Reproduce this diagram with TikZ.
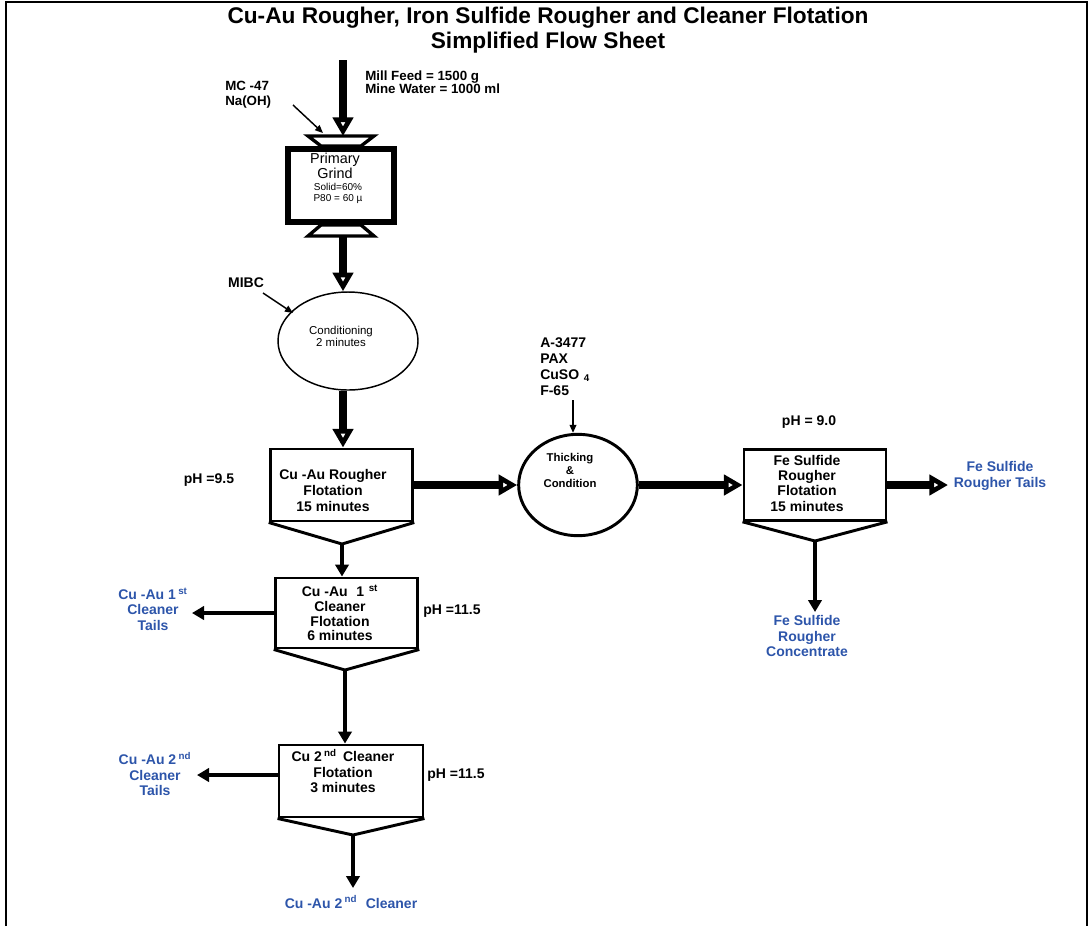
\documentclass[tikz,border=0pt]{standalone}
\usepackage{fontspec}
\setmainfont{Liberation Sans}
\usetikzlibrary{arrows.meta,shapes.geometric}
\definecolor{outblue}{RGB}{45,85,170}

\begin{document}
\begin{tikzpicture}[x=0.75pt,y=-0.75pt,
  lbl/.style={font=\fontsize{10.5}{11.6}\selectfont\bfseries, align=center, inner sep=0pt},
  outlbl/.style={lbl, text=outblue},
  cell/.style={draw, line width=2.2pt, inner sep=0pt, fill=white},
  heavy/.style={line width=6pt, -{Triangle[open,length=14pt,width=15pt,line width=3.6pt]}},
  medium/.style={line width=3pt, -{Triangle[length=9pt,width=10pt]}},
  feeder/.style={line width=1.1pt, -{Triangle[length=6pt,width=5pt]}},
  hopper/.style={line width=2.2pt, line join=miter},
]
\useasboundingbox (0,0) rectangle (1092,926);

% page frame (open at the bottom)
\draw[line width=1.5pt] (6,926) -- (6,1.5) -- (1087,1.5) -- (1087,926);

% title
\node[font=\fontsize{17}{18.75}\selectfont\bfseries, align=center] (title) at (548,30.5)
  {Cu-Au Rougher, Iron Sulfide Rougher and Cleaner Flotation\\Simplified Flow Sheet};

% ---------- grinding mill ----------
\node[draw, line width=4.5pt, minimum width=79.5pt, minimum height=55pt, inner sep=0pt] (grind) at (341,185.5) {};
\draw[line width=2.5pt, fill=white, line join=miter] (308,136) -- (374,136) -- (361,146) -- (321,146) -- cycle;
\draw[line width=2.5pt, fill=white, line join=miter] (321,225) -- (361,225) -- (374,236) -- (308,236) -- cycle;
\node[font=\fontsize{10.8}{9.75}\selectfont, align=center] (gt1) at (335,165.5) {Primary\\Grind};
\node[font=\fontsize{7.5}{8.25}\selectfont, align=center] (gt2) at (338,193.5) {Solid=60\%\\P80 = 60 µ};

\coordinate (feed) at (343,60);
\coordinate (gin) at (343,136);
\coordinate (gout) at (343,236);
\draw[heavy] (feed) -- (gin);

\node[lbl, font=\fontsize{10}{9.9}\selectfont\bfseries, align=left, anchor=west] (feedtxt) at (365,82.5)
  {Mill Feed = 1500 g\\Mine Water = 1000 ml};
\node[lbl, font=\fontsize{10}{11.25}\selectfont\bfseries, align=left, anchor=west] (mctxt) at (225,94.5)
  {MC -47\\Na(OH)};
\coordinate (mca) at (293,105);
\coordinate (mcb) at (323,133);
\draw[feeder] (mca) -- (mcb);

% ---------- conditioning ----------
\node[ellipse, draw, line width=1.1pt, minimum width=105pt, minimum height=73.5pt, inner sep=0pt] (cond) at (348,341) {};
\node[font=\fontsize{8.6}{9}\selectfont, align=center] (condtxt) at (341,336) {Conditioning\\2 minutes};
\draw[heavy] (gout) -- (gout |- cond.north);

\node[lbl] (mibc) at (246,283) {MIBC};
\coordinate (mibca) at (263,293);
\coordinate (mibcb) at (293,313);
\draw[feeder] (mibca) -- (mibcb);

% ---------- Cu-Au rougher ----------
\node[cell, minimum width=107pt, minimum height=54pt] (rough) at (341.5,485) {};
\coordinate (rtip) at (342,544);
\draw[hopper] (rough.south west) -- (rtip) -- (rough.south east);
\node[lbl, font=\fontsize{10.5}{12}\selectfont\bfseries] (roughtxt) at (333,490)
  {Cu -Au Rougher\\Flotation\\15 minutes};
\draw[heavy] (cond.south -| gout) -- (gout |- rough.north);
\node[lbl] (ph1) at (209,480) {pH =9.5};

% ---------- thickening / conditioning ----------
\node[ellipse, draw, line width=2.2pt, minimum width=89pt, minimum height=76pt, inner sep=0pt] (thk) at (578,485) {};
\node[font=\fontsize{8.5}{9.75}\selectfont\bfseries, align=center] (thktxt) at (570,470.5) {Thicking\\\&\\Condition};
\draw[heavy] (rough.east) -- (thk.west);

\node[lbl, font=\fontsize{10.5}{12}\selectfont\bfseries, align=left, anchor=north west] (reag) at (540,337)
  {A-3477\\PAX\\CuSO\,\,\textsubscript{4}\\F-65};
\coordinate (reaga) at (573,400);
\draw[feeder] (reaga) -- (reaga |- thk.north);

% ---------- Fe sulfide rougher ----------
\node[cell, minimum width=106.5pt, minimum height=53pt] (fe) at (815,485) {};
\coordinate (ftip) at (815,541);
\draw[hopper] (fe.south west) -- (ftip) -- (fe.south east);
\node[lbl, font=\fontsize{10.5}{11.5}\selectfont\bfseries] (fetxt) at (807,483)
  {Fe Sulfide\\Rougher\\Flotation\\15 minutes};
\node[lbl] (ph2) at (809,422) {pH = 9.0};
\draw[heavy] (thk.east) -- (fe.west);

\coordinate (fetail) at (948,485);
\draw[heavy] (fe.east) -- (fetail);
\node[outlbl] (fetailtxt) at (1000,476) {Fe Sulfide\\Rougher Tails};

\coordinate (fconc) at (815,612);
\draw[medium] (ftip) -- (fconc);
\node[outlbl] (fconctxt) at (807,636) {Fe Sulfide\\Rougher\\Concentrate};

% ---------- Cu-Au 1st cleaner ----------
\node[cell, minimum width=107pt, minimum height=52.5pt] (cl1) at (346.5,613) {};
\coordinate (c1tip) at (345,670);
\draw[hopper] (cl1.south west) -- (c1tip) -- (cl1.south east);
\node[lbl, font=\fontsize{10.5}{11}\selectfont\bfseries] (cl1txt) at (340,613)
  {Cu -Au\,\, 1\,\,\textsuperscript{st}\\Cleaner\\Flotation\\6 minutes};
\draw[medium] (rtip) -- (rtip |- cl1.north);
\node[lbl] (ph3) at (452,611) {pH =11.5};

\coordinate (c1tail) at (192,613);
\draw[medium] (cl1.west) -- (c1tail);
\node[outlbl] (c1tailtxt) at (153,609) {Cu -Au 1\,\textsuperscript{st}\\Cleaner\\Tails};

% ---------- Cu 2nd cleaner ----------
\node[cell, minimum width=108pt, minimum height=54pt] (cl2) at (351,781) {};
\coordinate (c2tip) at (353,835);
\draw[hopper] (cl2.south west) -- (c2tip) -- (cl2.south east);
\node[lbl, font=\fontsize{10.5}{11.6}\selectfont\bfseries] (cl2txt) at (343,771)
  {Cu 2\,\textsuperscript{nd}\, Cleaner\\Flotation\\3 minutes};
\draw[medium] (c1tip) -- (c1tip |- cl2.north);
\node[lbl] (ph4) at (456,775) {pH =11.5};

\coordinate (c2tail) at (197,775);
\draw[medium] (c2tail -| cl2.west) -- (c2tail);
\node[outlbl] (c2tailtxt) at (155,774) {Cu -Au 2\,\textsuperscript{nd}\\Cleaner\\Tails};

\coordinate (c2conc) at (353,888);
\draw[medium] (c2tip) -- (c2conc);
\node[outlbl] (c2conctxt) at (351,902) {Cu -Au 2\,\textsuperscript{nd}\,\, Cleaner};
\end{tikzpicture}
\end{document}
